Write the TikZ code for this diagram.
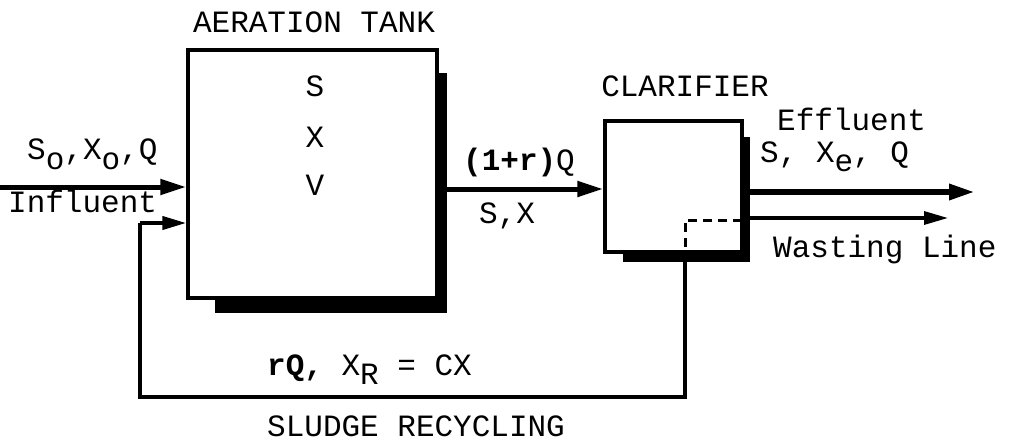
\documentclass[tikz,border=0pt]{standalone}
\usepackage{fontspec}
\setmonofont{Liberation Mono}
\usetikzlibrary{arrows.meta}
\newcommand\lowsub[1]{\raisebox{-0.32em}{#1}}
\begin{document}
\begin{tikzpicture}[x=1pt,y=-1pt,
  txt/.style={font=\ttfamily\fontsize{31}{36}\selectfont, inner sep=0pt, anchor=base west},
  ctxt/.style={txt, anchor=base},
  vessel/.style={draw, line width=3.4pt, inner sep=0pt},
  shade/.style={fill=black},
  flow/.style={line width=#1, -{Triangle[length=26pt,width=15pt]}},
  flow/.default=5pt,
  pipe/.style={line width=3.8pt},
  tip/.style={-{Triangle[length=24pt,width=13pt]}}]
\useasboundingbox (0,0) rectangle (1020,441);
% aeration tank
\fill[shade] (437,73) rectangle (447,313);
\fill[shade] (215,300) rectangle (447,313);
\node[vessel, minimum width=249pt, minimum height=248pt] (tank) at (312.5,174) {};
\node[ctxt] (ttl) at (314,33) {AERATION TANK};
\node[ctxt] (s) at (315,97) {S};
\node[ctxt] (x) at (315,147) {X};
\node[ctxt] (v) at (315,195) {V};
% clarifier
\fill[shade] (742,137) rectangle (750,262);
\fill[shade] (623,252) rectangle (750,262);
\node[vessel, minimum width=137pt, minimum height=131pt] (clar) at (673.5,186.5) {};
\node[ctxt] (cttl) at (685,97) {CLARIFIER};
% influent
\coordinate (inl) at (0,187);
\draw[flow] (inl) -- (inl -| tank.west);
\node[txt] (inlab) at (27,160) {S\lowsub{o},X\lowsub{o},Q};
\node[txt] (influent) at (8,212) {Influent};
% tank -> clarifier
\coordinate (tout) at (447,189);
\draw[flow] (tout) -- (tout -| clar.west);
\node[txt] (mq) at (463,171) {\textbf{(1+r)}Q};
\node[txt] (msx) at (479,223) {S,X};
% effluent
\coordinate (eo) at (750,192);
\coordinate (ee) at (975,192);
\draw[flow=6pt] (eo) -- (ee);
\node[txt] (efl) at (777,131) {Effluent};
\node[txt] (eflab) at (760,162) {S, X\lowsub{e}, Q};
% wasting
\coordinate (wo) at (750,218);
\coordinate (we) at (948,218);
\draw[line width=3.2pt, tip] (wo) -- (we);
\node[txt] (wl) at (773,257) {Wasting Line};
% recycle
\coordinate (d1) at (742,220);
\coordinate (d2) at (685,220);
\coordinate (d3) at (685,252);
\draw[line width=3pt, dash pattern=on 9pt off 6pt] (d1) -- (d2) -- (d3);
\coordinate (r1) at (685,397);
\coordinate (r2) at (140,397);
\coordinate (r3) at (140,223);
\draw[pipe] (d3) -- (r1) -- (r2) -- (r3);
\draw[pipe, line width=4pt, tip] (r3) -- (r3 -| tank.west);
\node[txt] (rq) at (267,375) {\textbf{rQ,} X\lowsub{R} = CX};
\node[txt] (slr) at (267,436) {SLUDGE RECYCLING};
\end{tikzpicture}
\end{document}
